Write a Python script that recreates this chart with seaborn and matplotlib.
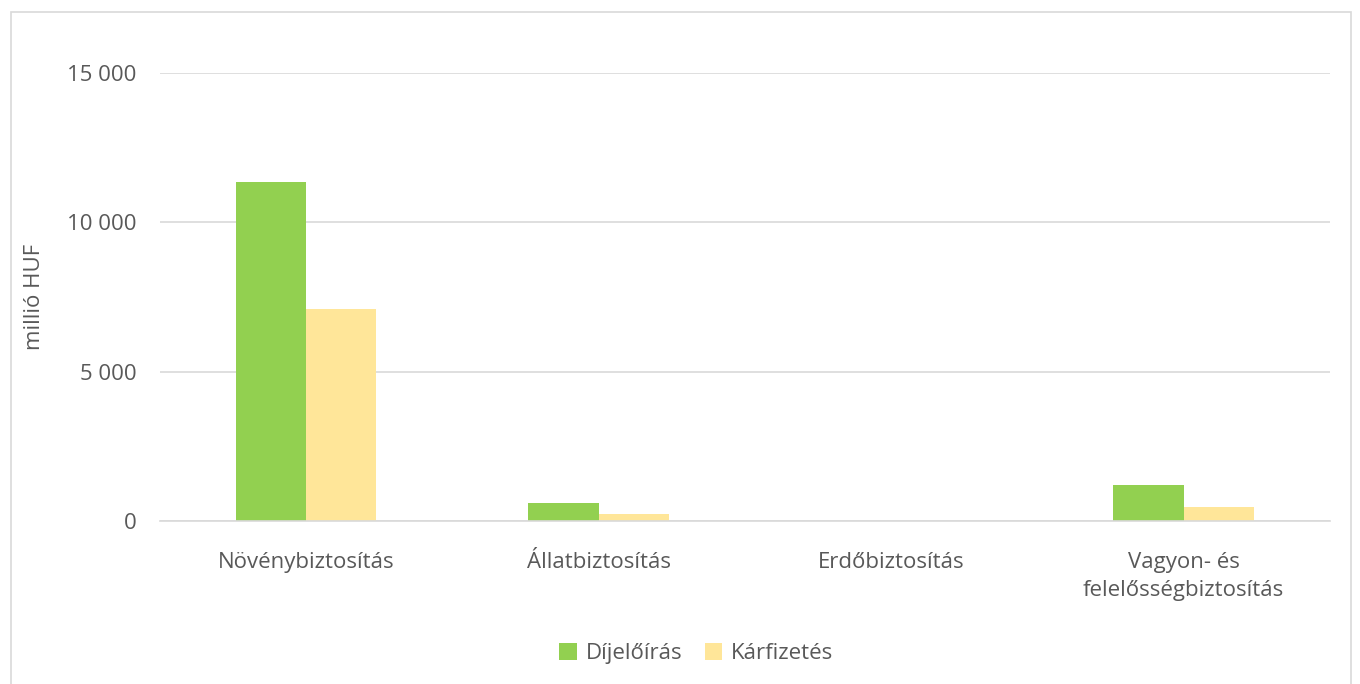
import pandas as pd
import matplotlib.pyplot as plt
import seaborn as sns
from matplotlib.patches import Rectangle

categories = ["Növénybiztosítás", "Állatbiztosítás", "Erdőbiztosítás",
              "Vagyon- és\nfelelősségbiztosítás"]
dijeloiras = [11350, 610, 5, 1210]
karfizetes = [7100, 240, 2, 470]
series_names = ["Díjelőírás", "Kárfizetés"]
colors = ["#92d050", "#ffe699"]
y_ticks = [0, 5000, 10000, 15000]
y_ticklabels = ["0", "5 000", "10 000", "15 000"]

df = pd.DataFrame({
    "kategoria": categories * 2,
    "ertek": dijeloiras + karfizetes,
    "sorozat": [series_names[0]] * 4 + [series_names[1]] * 4,
})

sns.set_theme(style="white")
plt.rcParams["font.family"] = ["Open Sans", "DejaVu Sans"]
text_color = "#595959"
fs = 16

fig = plt.figure(figsize=(13.6, 6.84), dpi=100)
ax = fig.add_axes([0.1176, 0.2383, 0.8603, 0.655])

sns.barplot(data=df, x="kategoria", y="ertek", hue="sorozat",
            palette=colors, width=0.48, gap=0, saturation=1,
            linewidth=0, ax=ax, legend=True)

ax.set_ylim(0, 15000)
ax.set_xlim(-0.5, 3.5)
ax.set_yticks(y_ticks)
ax.set_yticklabels(y_ticklabels)
ax.yaxis.grid(True, color="#d9d9d9", linewidth=1.2)
ax.set_axisbelow(True)
for s in ["top", "right", "left"]:
    ax.spines[s].set_visible(False)
ax.spines["bottom"].set_color("#d9d9d9")
ax.spines["bottom"].set_linewidth(1.2)

ax.tick_params(axis="y", length=0, pad=17, labelsize=fs, labelcolor=text_color)
ax.tick_params(axis="x", length=0, pad=22, labelsize=fs, labelcolor=text_color)
for lbl in ax.get_xticklabels():
    lbl.set_linespacing(1.45)
    lbl.set_verticalalignment("top")
ax.set_xlabel("")
ax.set_ylabel("millió HUF", fontsize=fs, color=text_color, labelpad=16)

handles, labels = ax.get_legend_handles_labels()
ax.get_legend().remove()
fig.legend(handles, labels, loc="center", bbox_to_anchor=(0.512, 0.045), ncol=2,
           frameon=False, fontsize=fs, labelcolor=text_color,
           handlelength=0.8, handleheight=0.8, handletextpad=0.4,
           columnspacing=1.0)

# frame around the whole chart
fig.patches.append(Rectangle((11 / 1360, -0.01), (1351 - 11) / 1360, 0.9925,
                             transform=fig.transFigure, fill=False,
                             edgecolor="#d9d9d9", linewidth=1.2))

fig.savefig("out.png", dpi=100)
